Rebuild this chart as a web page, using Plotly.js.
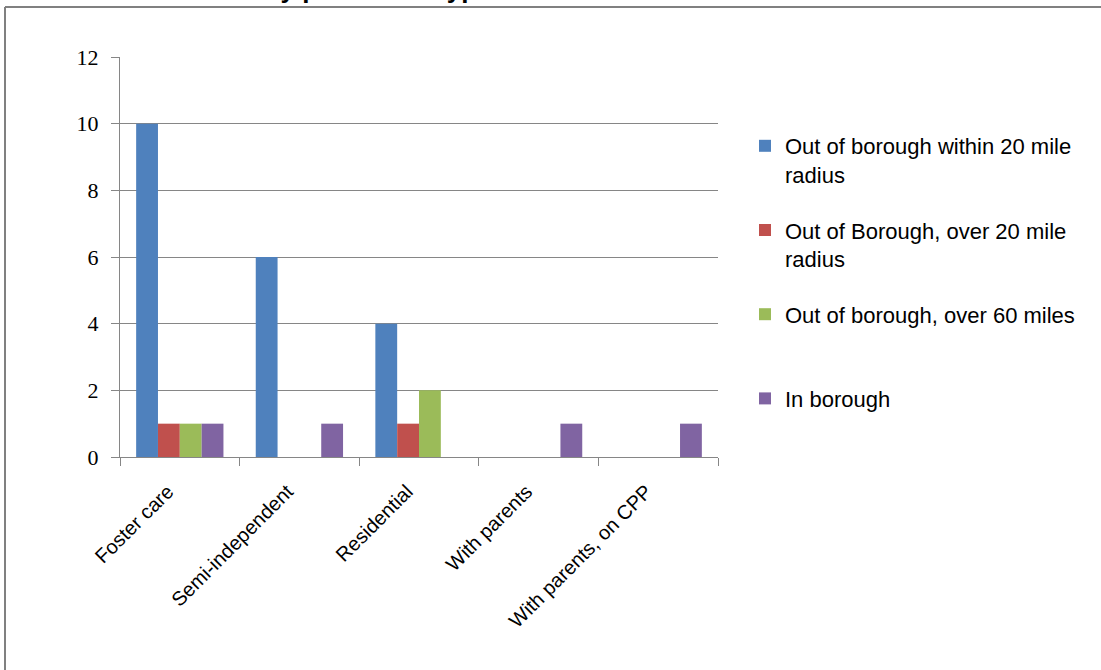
<!DOCTYPE html>
<html>
<head>
<meta charset="utf-8">
<script src="https://cdn.plot.ly/plotly-3.0.1.min.js"></script>
<style>
html,body{margin:0;padding:0;background:#fff;overflow:hidden;}
#chart{width:1101px;height:670px;}
</style>
</head>
<body>
<div id="chart"></div>
<script>
const categories = ["Foster care", "Semi-independent", "Residential", "With parents", "With parents, on CPP"];
const seriesNames = ["Out of borough within 20 mile<br>radius", "Out of Borough, over 20 mile<br>radius", "Out of borough, over 60 miles<br>\u00a0", "In borough"];
const within20 = [10, 6, 4, 0, 0];
const over20 = [1, 0, 1, 0, 0];
const over60 = [1, 0, 2, 0, 0];
const inBorough = [1, 1, 0, 1, 1];
const titleText = "Children by placement type";

const colors = ["#4F81BD", "#C0504D", "#9BBB59", "#8064A2"];
const values = [within20, over20, over60, inBorough];

const traces = values.map((v, i) => ({
  type: "bar",
  name: seriesNames[i],
  x: categories,
  y: v,
  marker: {color: colors[i], line: {width: 0}},
  legendgroup: "g" + i
}));

const L = 120, R = 718, T = 57, B = 457;
const W = R - L, H = B - T;
const px = x => (x - L) / W;
const py = y => (B - y) / H;

const layout = {
  width: 1101, height: 670,
  margin: {l: L, r: 1101 - R, t: T, b: 670 - B},
  paper_bgcolor: "#fff", plot_bgcolor: "#fff",
  barmode: "group", bargap: 0.27, bargroupgap: 0,
  showlegend: true,
  legend: {
    x: px(745), y: py(125), xanchor: "left", yanchor: "top",
    font: {family: "Liberation Sans, Arial, sans-serif", size: 22, color: "#000"},
    valign: "top", tracegroupgap: 24, itemclick: false, bgcolor: "rgba(0,0,0,0)"
  },
  xaxis: {
    type: "category",
    tickson: "boundaries",
    ticks: "outside", ticklen: 8, tickcolor: "#868686",
    ticklabelstandoff: 14, ticklabelshift: -12,
    showline: true, linecolor: "#868686", linewidth: 1,
    showgrid: false, zeroline: false,
    tickangle: -45,
    tickfont: {family: "Liberation Sans, Arial, sans-serif", size: 20, color: "#000"}
  },
  yaxis: {
    range: [0, 12], dtick: 2, tick0: 0,
    ticks: "outside", ticklen: 8, tickcolor: "#868686",
    ticklabelstandoff: 8,
    showline: true, linecolor: "#868686", linewidth: 1,
    showgrid: true, gridcolor: "#868686", gridwidth: 1,
    zeroline: false,
    tickfont: {family: "Liberation Serif, Times New Roman, serif", size: 22, color: "#000"}
  },
  shapes: [
    {type: "line", xref: "paper", yref: "paper", x0: px(5), x1: px(5), y0: py(7), y1: py(700), line: {color: "#808080", width: 2}},
    {type: "line", xref: "paper", yref: "paper", x0: px(5), x1: px(1200), y0: py(7), y1: py(7), line: {color: "#808080", width: 2}}
  ],
  annotations: [
    {text: "<b>" + titleText + "</b>", xref: "paper", yref: "paper", x: px(150), y: py(6),
     xanchor: "left", yanchor: "bottom", showarrow: false,
     font: {family: "Liberation Sans, Arial, sans-serif", size: 26, color: "#000"}}
  ]
};

Plotly.newPlot("chart", traces, layout, {displayModeBar: false, staticPlot: true});
</script>
</body>
</html>
